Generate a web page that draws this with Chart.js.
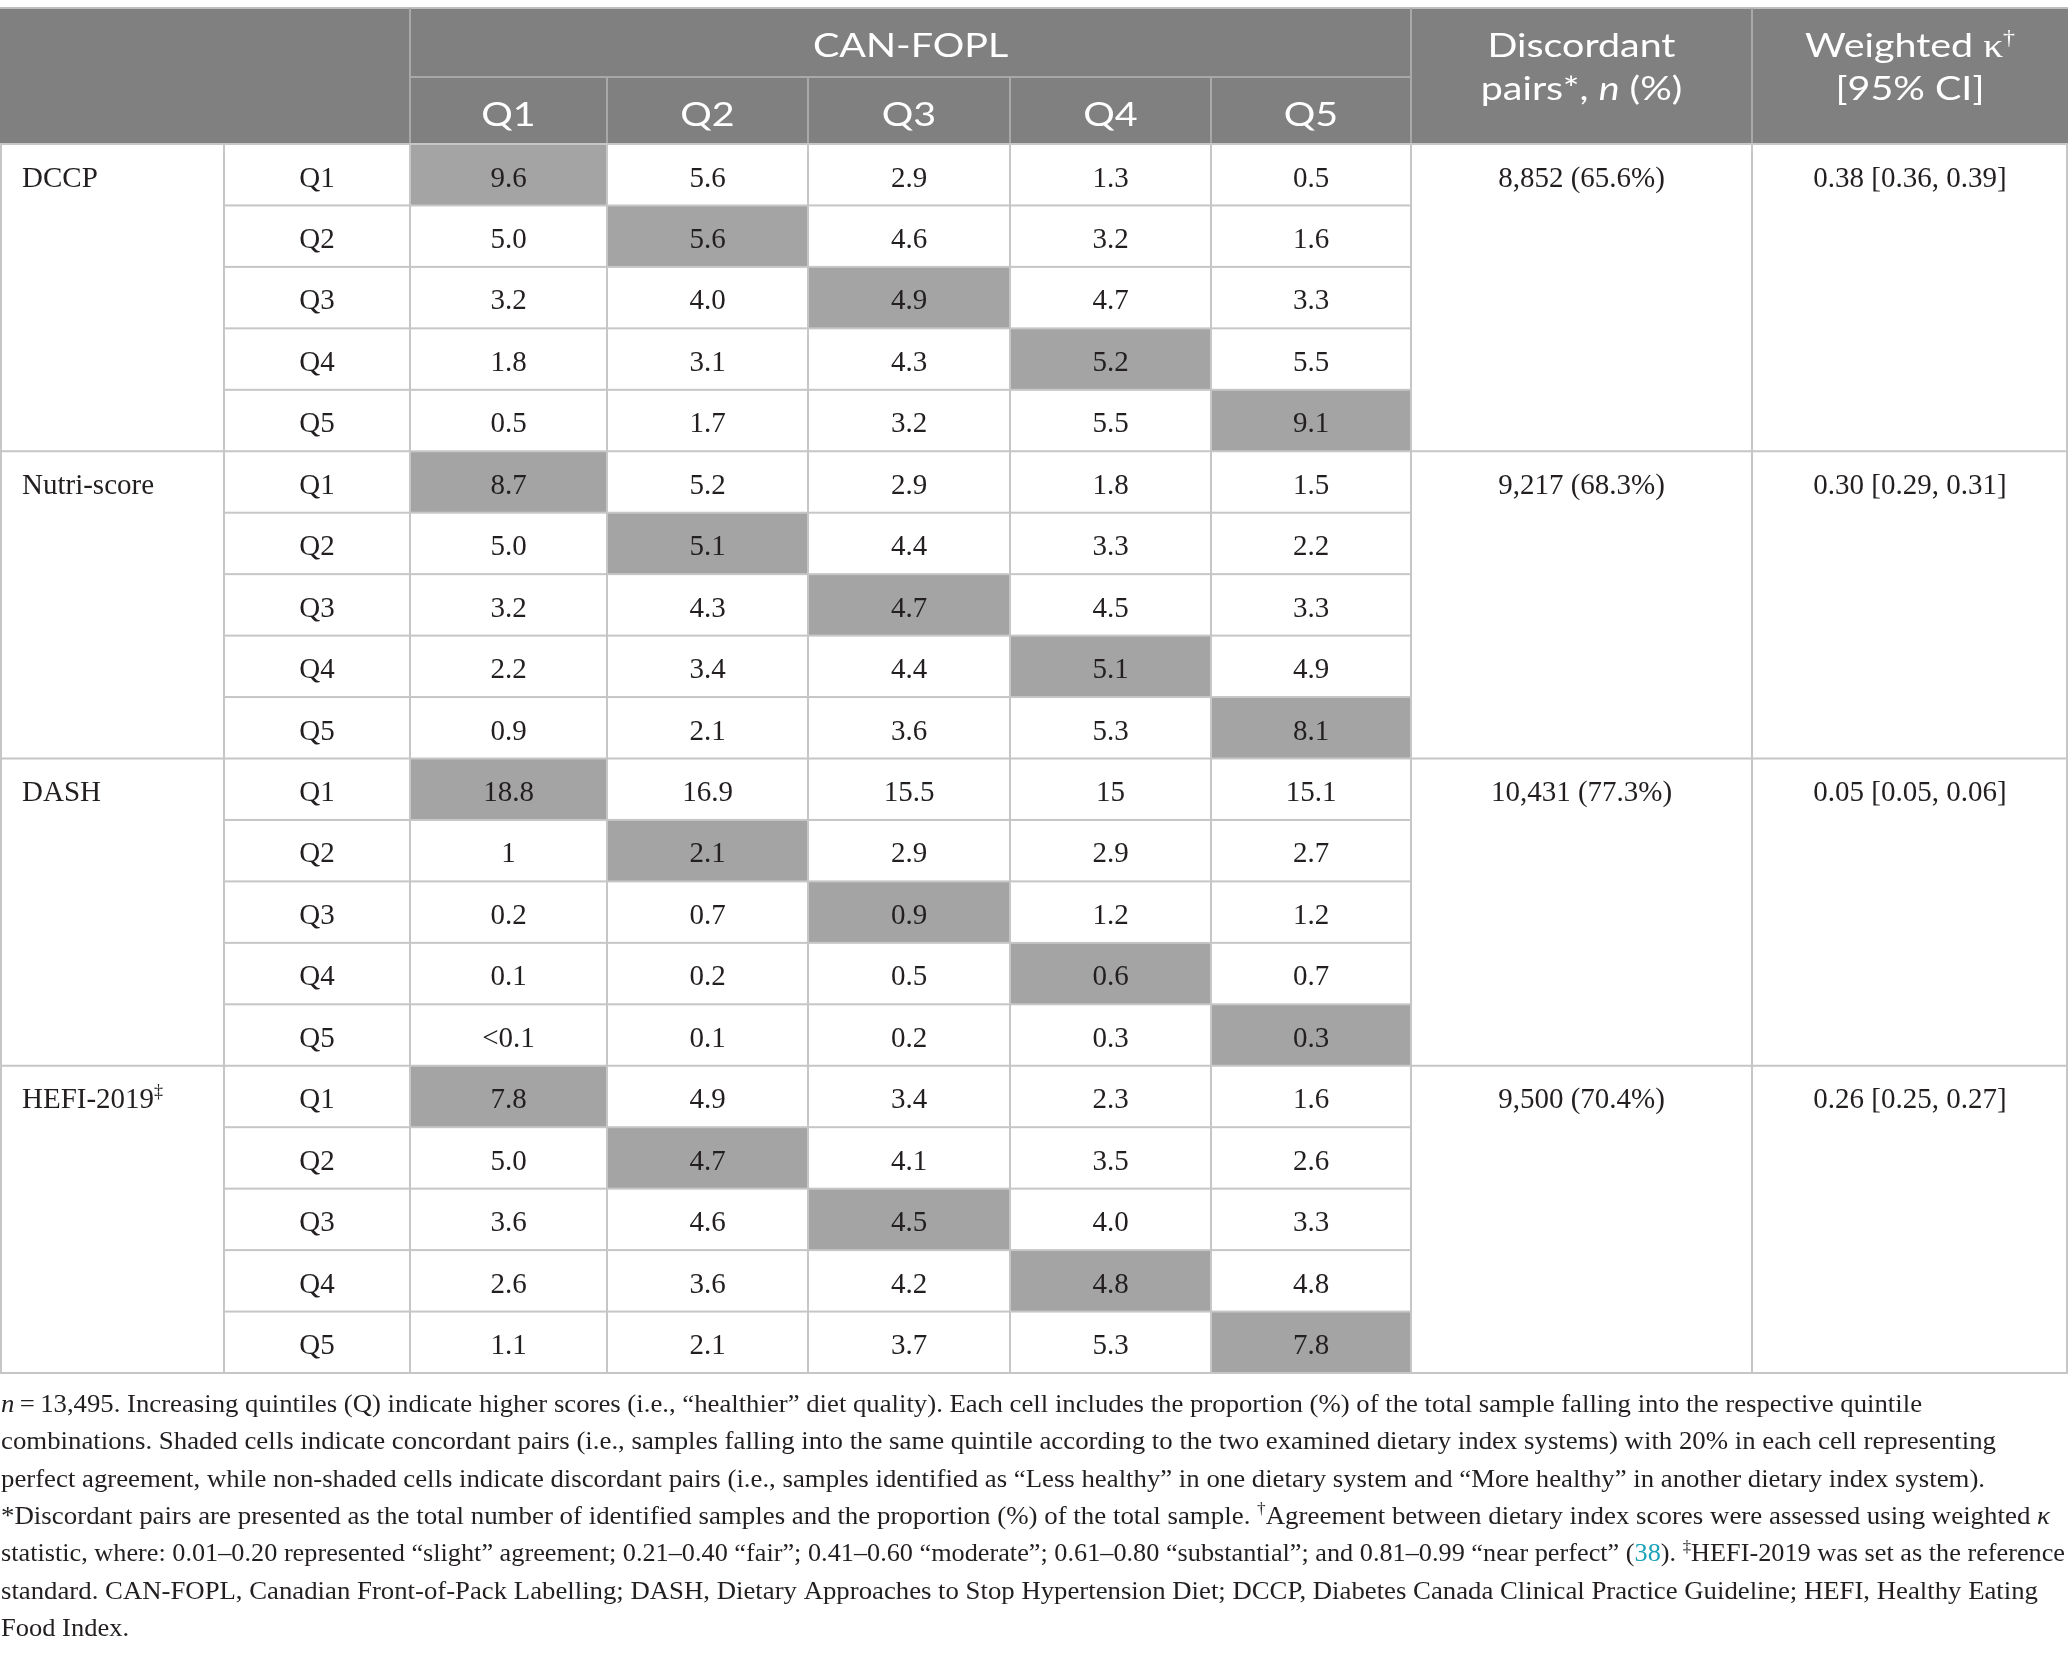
<!DOCTYPE html>
<html>
<head>
<meta charset="utf-8">
<script src="https://cdn.jsdelivr.net/npm/chart.js@4.4.1/dist/chart.umd.min.js"></script>
<style>
  html, body { margin: 0; padding: 0; background: #ffffff; }
  #wrap { width: 2068px; height: 1654px; }
</style>
</head>
<body>
<div id="wrap"><canvas id="c" width="2068" height="1654"></canvas></div>
<script>
// ---------------- DATA ----------------
const systems = ['DCCP', 'Nutri-score', 'DASH', 'HEFI-2019'];
const systemMarks = ['', '', '', '\u2021'];
const quintiles = ['Q1', 'Q2', 'Q3', 'Q4', 'Q5'];
const headerTitle = 'CAN-FOPL';

const dccpCells = [
  ['9.6', '5.6', '2.9', '1.3', '0.5'],
  ['5.0', '5.6', '4.6', '3.2', '1.6'],
  ['3.2', '4.0', '4.9', '4.7', '3.3'],
  ['1.8', '3.1', '4.3', '5.2', '5.5'],
  ['0.5', '1.7', '3.2', '5.5', '9.1']
];
const nutriCells = [
  ['8.7', '5.2', '2.9', '1.8', '1.5'],
  ['5.0', '5.1', '4.4', '3.3', '2.2'],
  ['3.2', '4.3', '4.7', '4.5', '3.3'],
  ['2.2', '3.4', '4.4', '5.1', '4.9'],
  ['0.9', '2.1', '3.6', '5.3', '8.1']
];
const dashCells = [
  ['18.8', '16.9', '15.5', '15', '15.1'],
  ['1', '2.1', '2.9', '2.9', '2.7'],
  ['0.2', '0.7', '0.9', '1.2', '1.2'],
  ['0.1', '0.2', '0.5', '0.6', '0.7'],
  ['<0.1', '0.1', '0.2', '0.3', '0.3']
];
const hefiCells = [
  ['7.8', '4.9', '3.4', '2.3', '1.6'],
  ['5.0', '4.7', '4.1', '3.5', '2.6'],
  ['3.6', '4.6', '4.5', '4.0', '3.3'],
  ['2.6', '3.6', '4.2', '4.8', '4.8'],
  ['1.1', '2.1', '3.7', '5.3', '7.8']
];
const discordantPairs = ['8,852 (65.6%)', '9,217 (68.3%)', '10,431 (77.3%)', '9,500 (70.4%)'];
const weightedKappa = ['0.38 [0.36, 0.39]', '0.30 [0.29, 0.31]', '0.05 [0.05, 0.06]', '0.26 [0.25, 0.27]'];

const footnoteLines = [
  [['i', 'n'], ['n', '\u2009=\u200913,495. Increasing quintiles (Q) indicate higher scores (i.e., \u201chealthier\u201d diet quality). Each cell includes the proportion (%) of the total sample falling into the respective quintile']],
  [['n', 'combinations. Shaded cells indicate concordant pairs (i.e., samples falling into the same quintile according to the two examined dietary index systems) with 20% in each cell representing']],
  [['n', 'perfect agreement, while non-shaded cells indicate discordant pairs (i.e., samples identified as \u201cLess healthy\u201d in one dietary system and \u201cMore healthy\u201d in another dietary index system).']],
  [['n', '*Discordant pairs are presented as the total number of identified samples and the proportion (%) of the total sample. '], ['s', '\u2020'], ['n', 'Agreement between dietary index scores were assessed using weighted '], ['i', '\u03ba']],
  [['n', 'statistic, where: 0.01\u20130.20 represented \u201cslight\u201d agreement; 0.21\u20130.40 \u201cfair\u201d; 0.41\u20130.60 \u201cmoderate\u201d; 0.61\u20130.80 \u201csubstantial\u201d; and 0.81\u20130.99 \u201cnear perfect\u201d ('], ['l', '38'], ['n', '). '], ['s', '\u2021'], ['n', 'HEFI-2019 was set as the reference']],
  [['n', 'standard. CAN-FOPL, Canadian Front-of-Pack Labelling; DASH, Dietary Approaches to Stop Hypertension Diet; DCCP, Diabetes Canada Clinical Practice Guideline; HEFI, Healthy Eating']],
  [['n', 'Food Index.']]
];

// ---------------- LAYOUT / STYLE (not data) ----------------
const W = 2068, H = 1654;
const colEdges = [0, 224, 410, 607, 808, 1010, 1211, 1411, 1752, 2068];
const LAYOUT = {
  headerTop: 8, headerMid: 77, headerBottom: 144, rowH: 61.45,
  footBase: 1412, footStep: 37.3,
  footEnds: [1922, 1996, 1985, 2050, 2065, 2038, 129],
  headerRefWidth: 188   // width of the word "Discordant" in the header
};
const STYLE = {
  headerBg: '#7f807f', shade: '#a3a4a3', grid: '#c6c6c6', headerGrid: '#a7a8a7',
  text: '#231f20', link: '#1ba3b8',
  serif: '"Liberation Serif", "DejaVu Serif", serif', sans: 'Lato, "Open Sans", sans-serif'
};

// ---------------- rich text helper ----------------
function segFont(kind, o) {
  const fam = (kind === 'k' || kind === 'ks') ? STYLE.serif : o.family;
  if (kind === 'i') return 'italic ' + o.size + 'px ' + fam;
  if (kind === 's' || kind === 'ks') return Math.round(o.size * 0.62) + 'px ' + fam;
  return o.size + 'px ' + fam;
}
function drawRich(ctx, segs, x, y, o) {
  const widths = segs.map(s => { ctx.font = segFont(s[0], o); return ctx.measureText(s[1]).width; });
  const total = widths.reduce((a, b) => a + b, 0);
  const sx = o.fit ? o.fit / total : (o.sx || 1);
  let start = x;
  if (o.align === 'center') start = x - total * sx / 2;
  ctx.save();
  ctx.translate(start, y);
  ctx.scale(sx, 1);
  ctx.textAlign = 'left';
  ctx.textBaseline = 'alphabetic';
  let cx = 0;
  segs.forEach((s, i) => {
    ctx.font = segFont(s[0], o);
    ctx.fillStyle = s[0] === 'l' ? STYLE.link : o.color;
    const dy = (s[0] === 's' || s[0] === 'ks') ? -o.size * 0.38 : 0;
    ctx.fillText(s[1], cx, dy);
    cx += widths[i];
  });
  ctx.restore();
}

// ---------------- table plugin (all positions via chart scales) ----------------
const allCells = [dccpCells, nutriCells, dashCells, hefiCells];
const tablePlugin = {
  id: 'table',
  afterDraw(chart) {
    const ctx = chart.ctx;
    const xs = chart.scales.x, ys = chart.scales.y;
    const X = v => xs.getPixelForValue(v);
    const Y = v => ys.getPixelForValue(v);
    const rowTop = r => LAYOUT.headerBottom + r * LAYOUT.rowH;
    const hLine = (x1, x2, y, col) => { ctx.fillStyle = col; ctx.fillRect(X(x1), Y(y) - 1, X(x2) - X(x1), 2); };
    const vLine = (x, y1, y2, col) => { ctx.fillStyle = col; ctx.fillRect(X(x) - 1, Y(y1), 2, Y(y2) - Y(y1)); };
    const nRows = systems.length * quintiles.length;
    const bodyBottom = rowTop(nRows);
    ctx.save();

    // header background
    ctx.fillStyle = STYLE.headerBg;
    ctx.fillRect(X(0), Y(LAYOUT.headerTop), X(W) - X(0), Y(LAYOUT.headerBottom) - Y(LAYOUT.headerTop));

    // shaded concordant cells
    allCells.forEach((cells, g) => {
      cells.forEach((row, r) => {
        row.forEach((v, c) => {
          if (r === c) {
            ctx.fillStyle = STYLE.shade;
            const x1 = colEdges[2 + c], x2 = colEdges[3 + c];
            const t = rowTop(g * 5 + r), b = rowTop(g * 5 + r + 1);
            ctx.fillRect(X(x1), Y(t), X(x2) - X(x1), Y(b) - Y(t));
          }
        });
      });
    });

    // header grid
    hLine(0, W, LAYOUT.headerTop, '#bdbdbd');
    hLine(colEdges[2], colEdges[7], LAYOUT.headerMid, STYLE.headerGrid);
    vLine(colEdges[2], LAYOUT.headerTop, LAYOUT.headerBottom, STYLE.headerGrid);
    for (let c = 3; c <= 6; c++) vLine(colEdges[c], LAYOUT.headerMid, LAYOUT.headerBottom, STYLE.headerGrid);
    vLine(colEdges[7], LAYOUT.headerTop, LAYOUT.headerBottom, STYLE.headerGrid);
    vLine(colEdges[8], LAYOUT.headerTop, LAYOUT.headerBottom, STYLE.headerGrid);

    // body grid
    for (let r = 1; r < nRows; r++) {
      if (r % 5 === 0) hLine(0, W, rowTop(r), STYLE.grid);
      else hLine(colEdges[1], colEdges[7], rowTop(r), STYLE.grid);
    }
    hLine(0, W, bodyBottom, STYLE.grid);
    [0, 1, 2, 3, 4, 5, 6, 7, 8].forEach(i => vLine(colEdges[i] + (i === 0 ? 1 : 0), LAYOUT.headerBottom, bodyBottom, STYLE.grid));
    vLine(W - 1, LAYOUT.headerBottom, bodyBottom, STYLE.grid);
    hLine(0, W, LAYOUT.headerBottom, STYLE.grid);

    // header text (sans, slightly widened to match reference glyph widths)
    const hsBase = { size: 33, family: STYLE.sans, color: '#ffffff', align: 'center' };
    ctx.font = '33px ' + STYLE.sans;
    const hsx = LAYOUT.headerRefWidth / ctx.measureText('Discordant').width;
    const hs = Object.assign({}, hsBase, { sx: hsx });
    const mid = (a, b) => (X(colEdges[a]) + X(colEdges[b])) / 2;
    drawRich(ctx, [['n', headerTitle]], mid(2, 7), Y(57), hs);
    quintiles.forEach((q, c) => drawRich(ctx, [['n', q]], mid(2 + c, 3 + c), Y(126), hs));
    drawRich(ctx, [['n', 'Discordant']], mid(7, 8), Y(57), hs);
    drawRich(ctx, [['n', 'pairs*, '], ['i', 'n'], ['n', ' (%)']], mid(7, 8), Y(100), hs);
    drawRich(ctx, [['n', 'Weighted '], ['k', '\u03ba'], ['ks', '\u2020']], mid(8, 9), Y(57), hs);
    drawRich(ctx, [['n', '[95% CI]']], mid(8, 9), Y(100), hs);

    // body text
    const bs = { size: 29, family: STYLE.serif, color: STYLE.text, align: 'center' };
    const baseOff = 42.5;
    systems.forEach((s, g) => {
      const top = rowTop(g * 5);
      const segs = [['n', s]];
      if (systemMarks[g]) segs.push(['s', systemMarks[g]]);
      drawRich(ctx, segs, X(22), Y(top + baseOff), Object.assign({}, bs, { align: 'left' }));
      drawRich(ctx, [['n', discordantPairs[g]]], mid(7, 8), Y(top + baseOff), bs);
      drawRich(ctx, [['n', weightedKappa[g]]], mid(8, 9), Y(top + baseOff), bs);
      quintiles.forEach((q, r) => {
        const t = rowTop(g * 5 + r);
        drawRich(ctx, [['n', q]], mid(1, 2), Y(t + baseOff), bs);
        allCells[g][r].forEach((v, c) => {
          drawRich(ctx, [['n', v]], mid(2 + c, 3 + c), Y(t + baseOff), bs);
        });
      });
    });

    // footnote
    footnoteLines.forEach((segs, i) => {
      const fo = { size: 25, family: STYLE.serif, color: STYLE.text, align: 'left', fit: LAYOUT.footEnds[i] - 1 };
      drawRich(ctx, segs, X(1), Y(LAYOUT.footBase + i * LAYOUT.footStep), fo);
    });
    ctx.restore();
  }
};

new Chart(document.getElementById('c'), {
  type: 'scatter',
  data: { datasets: [{ data: [], showLine: false }] },
  options: {
    responsive: false,
    animation: false,
    devicePixelRatio: 1,
    layout: { padding: 0 },
    plugins: { legend: { display: false }, tooltip: { enabled: false }, title: { display: false } },
    scales: {
      x: { type: 'linear', min: 0, max: W, display: false },
      y: { type: 'linear', min: 0, max: H, reverse: true, display: false }
    }
  },
  plugins: [tablePlugin]
});
</script>
</body>
</html>
